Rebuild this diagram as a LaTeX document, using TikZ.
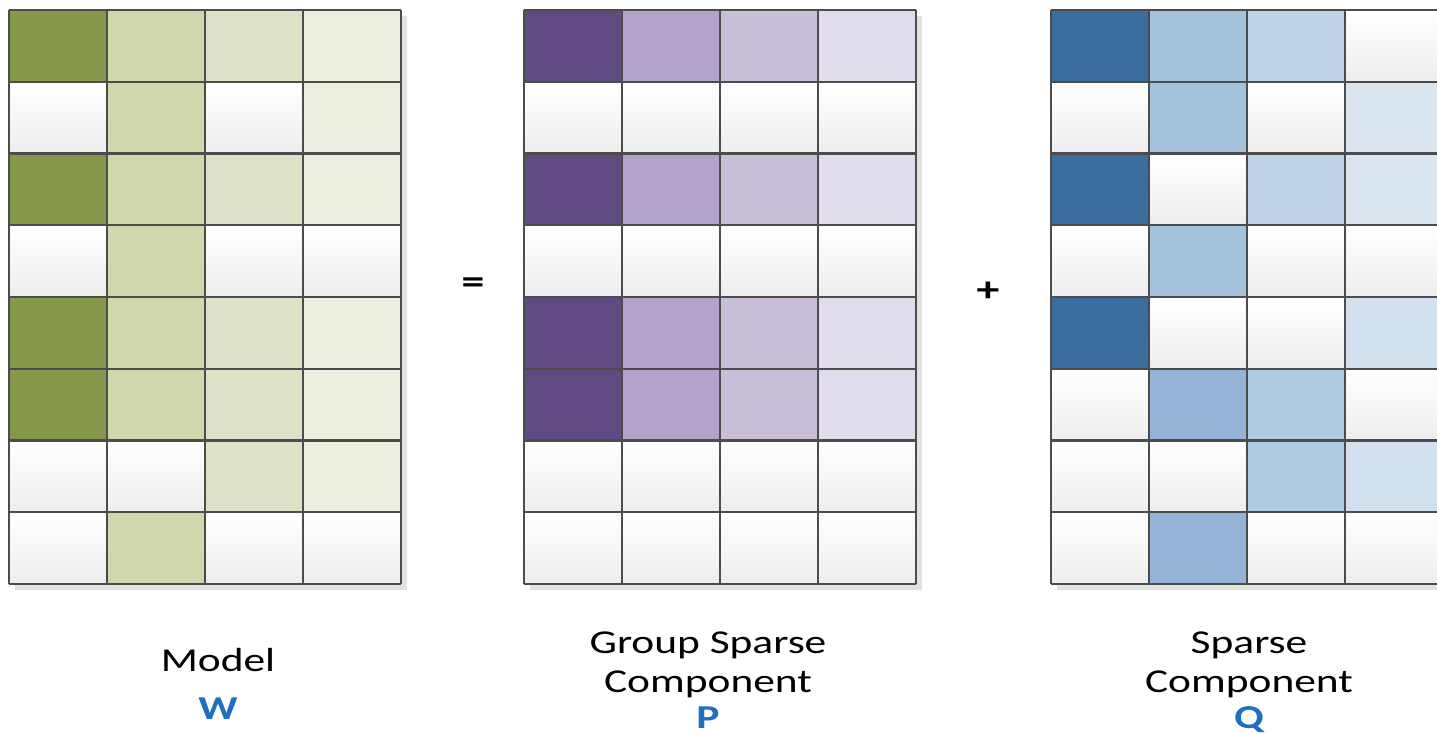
\documentclass[tikz,border=0pt]{standalone}
\usepackage{fontspec}
\setmainfont{Carlito}
\newfontfamily\stretchfont[FakeStretch=1.3]{Carlito}
\usetikzlibrary{positioning}
\definecolor{wgDark}{HTML}{84974A}
\definecolor{wgMid}{HTML}{CFD7AD}
\definecolor{wgLight}{HTML}{DCE2C8}
\definecolor{wgPale}{HTML}{EBEFE0}
\definecolor{gpDark}{HTML}{5F4B82}
\definecolor{gpMid}{HTML}{B1A3CA}
\definecolor{gpLight}{HTML}{C9BFD9}
\definecolor{gpPale}{HTML}{E1DCEB}
\definecolor{sqDark}{HTML}{3A6E9F}
\definecolor{sqMid}{HTML}{A4C1DD}
\definecolor{sqMidB}{HTML}{95B5D8}
\definecolor{sqLight}{HTML}{BED3E6}
\definecolor{sqLightB}{HTML}{B1CBE2}
\definecolor{sqPale}{HTML}{DBE5F0}
\definecolor{sqPaleB}{HTML}{D2E0ED}
\definecolor{gridLine}{HTML}{4C4C4C}
\definecolor{shadowGray}{HTML}{E2E2E2}
\definecolor{letterBlue}{HTML}{1F6FC0}
\tikzset{
  blankcell/.style={top color=white, bottom color=black!7},
  cellshadow/.style={fill=shadowGray},
  gridrule/.style={draw=gridLine, line width=0.6pt},
  caption/.style={font=\stretchfont\fontsize{9.5}{11}\selectfont,
    align=center, inner sep=0pt},
  matrix letter/.style={font=\stretchfont\fontsize{9.5}{11}\selectfont\bfseries,
    text=letterBlue, inner sep=0pt},
  operator/.style={font=\stretchfont\fontsize{10}{12}\selectfont\bfseries,
    inner sep=0pt}
}
% #1 left edge, #2 rows of cell fills (none = blank cell)
\newcommand{\gridmatrix}[2]{%
  \fill[cellshadow] ({#1+6},16) rectangle ({#1+398},590);
  \foreach \cells [count=\r from 0] in {#2}
    \foreach \c [count=\k from 0] in \cells {
      \path[blankcell] ({#1+98*\k},{10+71.75*\r}) rectangle ++(98,71.75);
      \path[fill=\c] ({#1+98*\k},{10+71.75*\r}) rectangle ++(98,71.75);
    }
  \foreach \k in {0,...,4}
    \draw[gridrule] ({#1+98*\k},10) -- ++(0,574);
  \foreach \r in {0,...,8}
    \draw[gridrule] (#1,{10+71.75*\r}) -- ++(392,0);
}

\begin{document}
\begin{tikzpicture}[x=0.01cm, y=-0.01cm]
  \useasboundingbox[fill=white] (0,0) rectangle (1437,732);

  % model W
  \gridmatrix{9}{{wgDark,wgMid,wgLight,wgPale},{none,wgMid,none,wgPale},
    {wgDark,wgMid,wgLight,wgPale},{none,wgMid,none,none},
    {wgDark,wgMid,wgLight,wgPale},{wgDark,wgMid,wgLight,wgPale},
    {none,none,wgLight,wgPale},{none,wgMid,none,none}}

  % group sparse component P
  \gridmatrix{524}{{gpDark,gpMid,gpLight,gpPale},{none,none,none,none},
    {gpDark,gpMid,gpLight,gpPale},{none,none,none,none},
    {gpDark,gpMid,gpLight,gpPale},{gpDark,gpMid,gpLight,gpPale},
    {none,none,none,none},{none,none,none,none}}

  % sparse component Q
  \gridmatrix{1051}{{sqDark,sqMid,sqLight,none},{none,sqMid,none,sqPale},
    {sqDark,none,sqLight,sqPale},{none,sqMid,none,none},
    {sqDark,none,none,sqPaleB},{none,sqMidB,sqLightB,none},
    {none,none,sqLightB,sqPaleB},{none,sqMidB,none,none}}

  \node[operator] (eqsign) at (473,286) {=};
  \node[operator] (plussign) at (988,292) {+};

  \node[caption, anchor=north] (wcap) at (218,648) {Model};
  \node[matrix letter, anchor=north] (wsym) at (218,697) {W};
  \node[caption, anchor=north] (pcap) at (708,631) {Group Sparse\\Component};
  \node[matrix letter, anchor=north] (psym) at (708,706) {P};
  \node[caption, anchor=north] (qcap) at (1249,631) {Sparse\\Component};
  \node[matrix letter, anchor=north] (qsym) at (1249,706) {Q};
\end{tikzpicture}
\end{document}
